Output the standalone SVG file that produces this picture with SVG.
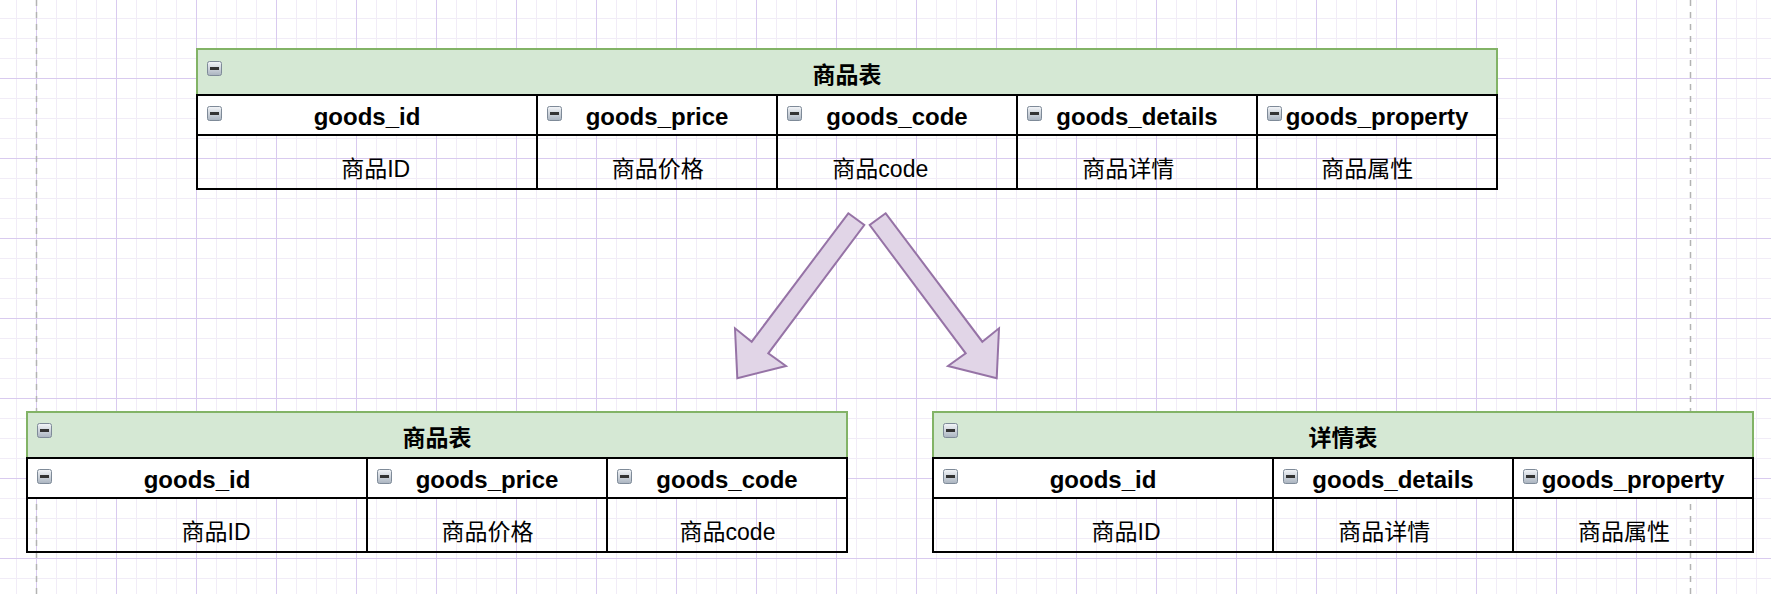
<svg xmlns="http://www.w3.org/2000/svg" width="1771" height="594" viewBox="0 0 1771 594">
<style>
.title{font-family:"Liberation Sans","Noto Sans CJK SC",sans-serif;font-size:23px;font-weight:bold;fill:#000;text-anchor:middle}
.field{font-family:"Liberation Sans","Noto Sans CJK SC",sans-serif;font-size:24px;font-weight:bold;fill:#000;text-anchor:middle}
.cell{font-family:"Liberation Sans","Noto Sans CJK SC",sans-serif;font-size:23px;fill:#000;text-anchor:middle}
.hdr{fill:#d5e8d4;stroke:#82b366;stroke-width:2}
.colrow{fill:#ffffff;stroke:#000;stroke-width:2}
.body{fill:none;stroke:#000;stroke-width:2}
.div{stroke:#000;stroke-width:2}
.arrow{fill:#e1d5e7;stroke:#9673a6;stroke-width:2;stroke-linejoin:miter}
.page{stroke:#b3b3b3;stroke-width:1.5;stroke-dasharray:6 6;fill:none}
</style>
<defs>
<pattern id="grid" x="36" y="-2" width="80" height="80" patternUnits="userSpaceOnUse">
<path d="M20.5 0V80M40.5 0V80M60.5 0V80M0 20.5H80M0 40.5H80M0 60.5H80" stroke="#f1ecf7" stroke-width="1" fill="none"/>
<path d="M0.5 0V80M0 0.5H80" stroke="#d9caef" stroke-width="1" fill="none"/>
</pattern>
<linearGradient id="ig" x1="0" y1="0" x2="0" y2="1">
<stop offset="0" stop-color="#f4f6f9"/>
<stop offset="1" stop-color="#a9b3bf"/>
</linearGradient>
<g id="icon">
<rect x="0.5" y="0.5" width="14" height="14" rx="2" fill="url(#ig)" stroke="#7e8a98" stroke-width="1"/>
<rect x="3" y="6" width="9" height="3" fill="#333"/>
</g>
</defs>
<rect width="1771" height="594" fill="#ffffff"/>
<rect width="1771" height="594" fill="url(#grid)"/>
<path class="page" d="M36.5 0V594M1690.5 0V594"/>

<g id="connectors">
<polygon id="arrow-left" class="arrow" points="848.3,213.3 864.3,225 768.3,353.3 786,366 737.3,378.3 735,328.3 751.7,341.7"/>
<polygon id="arrow-right" class="arrow" points="885.7,213.3 869.7,225 965.7,353.3 948,366 996.7,378.3 999,328.3 982.3,341.7"/>
</g>

<g id="table-goods-top">
<rect class="hdr" x="197" y="49" width="1300" height="46"/>
<rect class="colrow" x="197" y="95" width="1300" height="40"/>
<rect class="body" x="197" y="135" width="1300" height="54"/>
<path class="div" d="M537 95V189M777 95V189M1017 95V189M1257 95V189"/>
<use href="#icon" x="207" y="61"/>
<use href="#icon" x="207" y="106"/>
<use href="#icon" x="547" y="106"/>
<use href="#icon" x="787" y="106"/>
<use href="#icon" x="1027" y="106"/>
<use href="#icon" x="1267" y="106"/>
<text class="title" x="847" y="83">商品表</text>
<text class="field" x="367" y="125">goods_id</text>
<text class="field" x="657" y="125">goods_price</text>
<text class="field" x="897" y="125">goods_code</text>
<text class="field" x="1137" y="125">goods_details</text>
<text class="field" x="1377" y="125">goods_property</text>
<text class="cell" x="375.7" y="176.5">商品ID</text>
<text class="cell" x="657.8" y="176.5">商品价格</text>
<text class="cell" x="880.3" y="176.5">商品code</text>
<text class="cell" x="1128.3" y="176.5">商品详情</text>
<text class="cell" x="1367.3" y="176.5">商品属性</text>
</g>

<g id="table-goods-bottom">
<rect class="hdr" x="27" y="412" width="820" height="46"/>
<rect class="colrow" x="27" y="458" width="820" height="40"/>
<rect class="body" x="27" y="498" width="820" height="54"/>
<path class="div" d="M367 458V552M607 458V552"/>
<use href="#icon" x="37" y="423"/>
<use href="#icon" x="37" y="469"/>
<use href="#icon" x="377" y="469"/>
<use href="#icon" x="617" y="469"/>
<text class="title" x="437" y="446">商品表</text>
<text class="field" x="197" y="488">goods_id</text>
<text class="field" x="487" y="488">goods_price</text>
<text class="field" x="727" y="488">goods_code</text>
<text class="cell" x="216" y="539.5">商品ID</text>
<text class="cell" x="487.4" y="539.5">商品价格</text>
<text class="cell" x="727.5" y="539.5">商品code</text>
</g>

<g id="table-details-bottom">
<rect class="hdr" x="933" y="412" width="820" height="46"/>
<rect class="colrow" x="933" y="458" width="820" height="40"/>
<rect class="body" x="933" y="498" width="820" height="54"/>
<path class="div" d="M1273 458V552M1513 458V552"/>
<use href="#icon" x="943" y="423"/>
<use href="#icon" x="943" y="469"/>
<use href="#icon" x="1283" y="469"/>
<use href="#icon" x="1523" y="469"/>
<text class="title" x="1343" y="446">详情表</text>
<text class="field" x="1103" y="488">goods_id</text>
<text class="field" x="1393" y="488">goods_details</text>
<text class="field" x="1633" y="488">goods_property</text>
<text class="cell" x="1126" y="539.5">商品ID</text>
<text class="cell" x="1384.3" y="539.5">商品详情</text>
<text class="cell" x="1624" y="539.5">商品属性</text>
</g>
</svg>
